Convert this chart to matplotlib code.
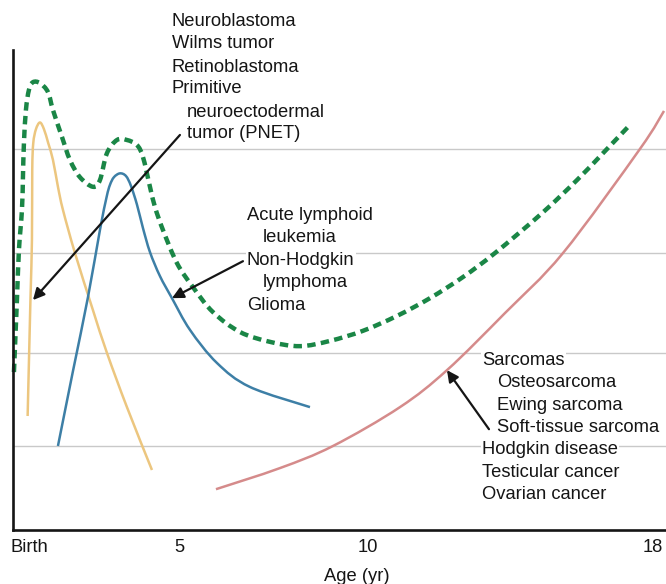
import matplotlib
matplotlib.use("Agg")
import matplotlib.pyplot as plt
from matplotlib.path import Path
from matplotlib.patches import PathPatch

plt.rcParams["font.family"] = ["Liberation Sans", "DejaVu Sans"]
plt.rcParams["font.size"] = 13.2

# ---- data (x = age in years, y = relative incidence, 0-100) ----
yellow_x = [0.997, 1.071, 1.111, 1.119, 1.146, 1.217, 1.323, 1.429, 1.542, 1.667,
            1.799, 1.931, 2.249, 2.725, 3.095, 3.624, 4.286]
yellow_y = [23.75, 47.9, 60.4, 75.0, 80.6, 83.5, 84.9, 83.5, 80.6, 77.1,
            71.5, 66.7, 57.7, 45.8, 36.9, 25.6, 12.5]

blue_x = [1.799, 2.196, 2.593, 2.910, 3.087, 3.175, 3.280, 3.439, 3.598, 3.730,
          3.889, 4.048, 4.233, 4.497, 4.815, 5.291, 6.005, 6.878, 8.466]
blue_y = [17.5, 33.1, 48.5, 62.5, 69.4, 71.9, 73.5, 74.3, 73.75, 71.7,
          67.8, 62.9, 57.9, 52.9, 48.3, 41.7, 34.8, 29.8, 25.6]

green_x = [0.635, 0.714, 0.767, 0.847, 0.873, 0.899, 0.952, 1.032, 1.138, 1.323,
           1.534, 1.667, 1.905, 2.116, 2.381, 2.725, 2.910, 3.095, 3.360, 3.624,
           3.889, 4.048, 4.233, 4.365, 4.577, 4.947, 5.370, 5.899, 6.614, 7.407,
           8.201, 8.995, 9.868, 10.767, 11.640, 12.513, 13.360, 14.603, 15.529,
           16.217, 16.931]
green_y = [32.9, 47.9, 58.3, 66.7, 73.5, 80.6, 87.5, 91.7, 93.3, 93.1,
           91.25, 87.5, 81.9, 77.1, 73.5, 71.5, 72.9, 78.5, 81.25, 81.25,
           80.2, 77.7, 71.5, 67.3, 62.5, 55.6, 50.6, 45.4, 41.25, 39.2,
           38.3, 39.4, 41.5, 44.6, 48.3, 52.7, 57.7, 66.0, 72.9,
           78.5, 84.4]

pink_x = [5.979, 7.672, 9.074, 10.847, 12.090, 13.625, 15.159, 17.196, 17.831]
pink_y = [8.5, 12.9, 17.5, 25.6, 33.3, 45.2, 57.7, 79.4, 87.3]

grid_levels = [17.5, 36.9, 57.7, 79.4]
tick_pos = [1.032, 5, 10, 17.54]
tick_labels = ["Birth", "5", "10", "18"]

# arrows: (tail, head)
arrows = [((5.026, 82.3), (1.138, 47.9)),
          ((6.693, 56.0), (4.815, 48.3)),
          ((13.201, 21.0), (12.090, 33.3))]

# label lines: (x, baseline y, text)
labels = [
    (4.815, 104.9, "Neuroblastoma"),
    (4.815, 100.35, "Wilms tumor"),
    (4.815, 95.5, "Retinoblastoma"),
    (4.815, 91.0, "Primitive"),
    (5.212, 86.1, "neuroectodermal"),
    (5.212, 81.6, "tumor (PNET)"),
    (6.799, 64.6, "Acute lymphoid"),
    (7.222, 59.9, "leukemia"),
    (6.799, 55.2, "Non-Hodgkin"),
    (7.222, 50.6, "lymphoma"),
    (6.799, 45.9, "Glioma"),
    (13.016, 34.4, "Sarcomas"),
    (13.413, 29.7, "Osteosarcoma"),
    (13.413, 25.1, "Ewing sarcoma"),
    (13.413, 20.5, "Soft-tissue sarcoma"),
    (13.016, 15.8, "Hodgkin disease"),
    (13.016, 11.1, "Testicular cancer"),
    (13.016, 6.4, "Ovarian cancer"),
]

GREEN, YELLOW, BLUE, PINK = "#1a8646", "#ecc67f", "#3d7fa6", "#d58b8b"
INK = "#151515"


def smooth_path(xs, ys):
    # Catmull-Rom through the read points, drawn as cubic Bezier segments
    pts = list(zip(xs, ys))
    verts = [pts[0]]
    codes = [Path.MOVETO]
    n = len(pts)
    for i in range(n - 1):
        p0 = pts[max(i - 1, 0)]
        p1, p2 = pts[i], pts[i + 1]
        p3 = pts[min(i + 2, n - 1)]
        c1 = (p1[0] + (p2[0] - p0[0]) / 6, p1[1] + (p2[1] - p0[1]) / 6)
        c2 = (p2[0] - (p3[0] - p1[0]) / 6, p2[1] - (p3[1] - p1[1]) / 6)
        verts += [c1, c2, p2]
        codes += [Path.CURVE4] * 3
    return Path(verts, codes)


fig = plt.figure(figsize=(6.66, 5.84), dpi=100)
ax = fig.add_axes([13 / 666, 54 / 584, 653 / 666, 480 / 584])
ax.set_xlim(0.61, 17.884)
ax.set_ylim(0, 100)

for s in ["top", "right"]:
    ax.spines[s].set_visible(False)
for s in ["left", "bottom"]:
    ax.spines[s].set_linewidth(1.9)
    ax.spines[s].set_color(INK)

ax.set_yticks(grid_levels)
ax.set_yticklabels([])
ax.grid(axis="y", color="#c9c9c9", lw=1.0)
ax.set_axisbelow(True)
ax.set_xticks(tick_pos)
ax.set_xticklabels(tick_labels)
ax.tick_params(length=0, pad=6.5, colors=INK, labelsize=13.2)
ax.set_xlabel("Age (yr)", color=INK, fontsize=13.2)
ax.xaxis.set_label_coords((357 - 13) / 653, -38 / 480)

for xs, ys, c in [(yellow_x, yellow_y, YELLOW), (blue_x, blue_y, BLUE), (pink_x, pink_y, PINK)]:
    ax.add_patch(PathPatch(smooth_path(xs, ys), facecolor="none", edgecolor=c,
                           lw=1.8, joinstyle="round", capstyle="butt", clip_on=False, zorder=2))
ax.add_patch(PathPatch(smooth_path(green_x, green_y), facecolor="none", edgecolor=GREEN,
                       lw=3.2, linestyle=(0, (1.9, 1.2)), capstyle="butt",
                       clip_on=False, zorder=2))

for tail, head in arrows:
    ax.annotate("", xy=head, xytext=tail,
                arrowprops=dict(arrowstyle="-|>", color=INK, lw=1.6,
                                mutation_scale=17, shrinkA=0, shrinkB=0), zorder=4)

for x, y, t in labels:
    ax.text(x, y, t, ha="left", va="baseline", color=INK, fontsize=13.2,
            bbox=dict(facecolor="white", edgecolor="none", pad=0.8), zorder=3)

fig.savefig("out.png", dpi=100)
